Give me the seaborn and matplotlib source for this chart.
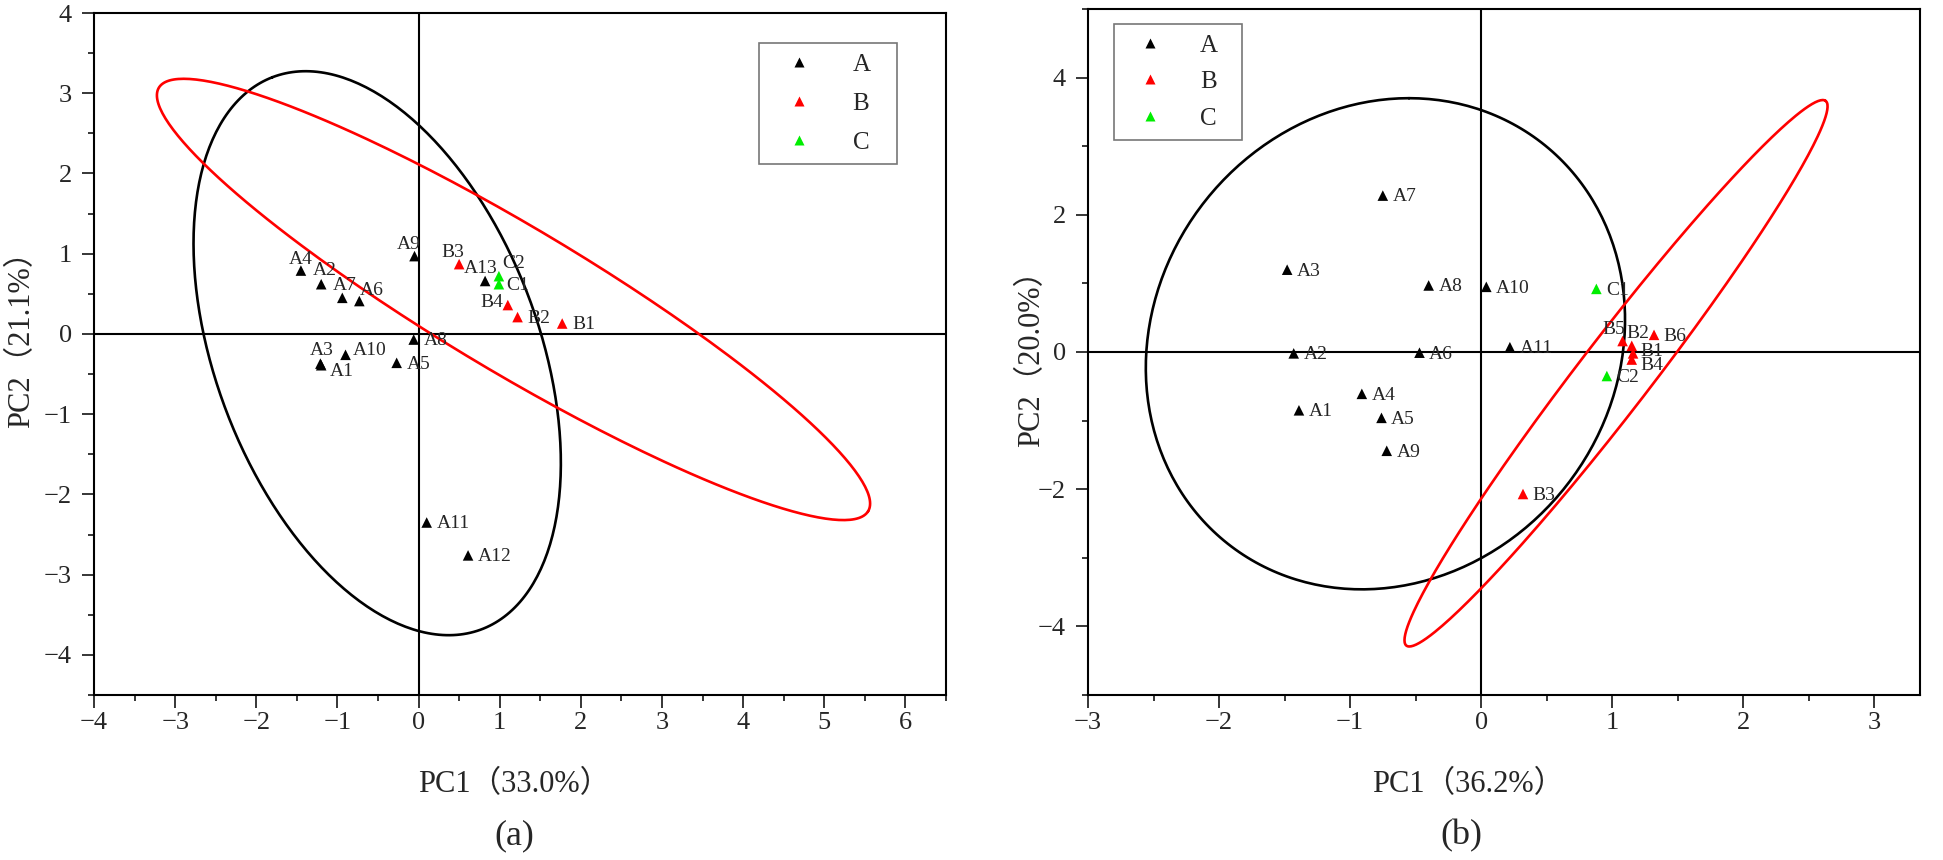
import matplotlib
matplotlib.use("Agg")
import matplotlib.pyplot as plt
from matplotlib.lines import Line2D
from matplotlib.ticker import MultipleLocator
import numpy as np
import pandas as pd
import seaborn as sns

# ---- panel (a) scores ----
names_a = ["A1", "A2", "A3", "A4", "A5", "A6", "A7", "A8", "A9", "A10",
           "A11", "A12", "A13", "B1", "B2", "B3", "B4", "C1", "C2"]
group_a = ["A"] * 13 + ["B"] * 4 + ["C"] * 2
pc1_a = [-1.20, -1.20, -1.21, -1.45, -0.27, -0.73, -0.94, -0.06, -0.05, -0.90,
         0.10, 0.61, 0.82, 1.77, 1.22, 0.50, 1.10, 0.99, 0.99]
pc2_a = [-0.39, 0.62, -0.37, 0.79, -0.36, 0.41, 0.45, -0.07, 0.97, -0.26,
         -2.35, -2.76, 0.66, 0.13, 0.21, 0.87, 0.36, 0.62, 0.72]

# ---- panel (b) scores ----
names_b = ["A1", "A2", "A3", "A4", "A5", "A6", "A7", "A8", "A9", "A10", "A11",
           "B1", "B2", "B3", "B4", "B5", "B6", "C1", "C2"]
group_b = ["A"] * 11 + ["B"] * 6 + ["C"] * 2
pc1_b = [-1.39, -1.43, -1.48, -0.91, -0.76, -0.47, -0.75, -0.40, -0.72, 0.04, 0.22,
         1.16, 1.15, 0.32, 1.15, 1.08, 1.32, 0.88, 0.96]
pc2_b = [-0.85, -0.02, 1.20, -0.61, -0.96, -0.01, 2.28, 0.97, -1.44, 0.95, 0.07,
         -0.02, 0.09, -2.07, -0.11, 0.16, 0.25, 0.92, -0.35]

# confidence ellipses: centre, semi-axis u, conjugate semi-axis v (data units)
ell_a_A = dict(c=(-0.51, -0.24), u=(-1.29, 3.44), v=(1.86, 0.72))
ell_a_B = dict(c=(1.17, 0.43), u=(4.37, -2.64), v=(0.465, 0.77))
ell_b_A = dict(c=(-0.73, 0.12), u=(0.18, 3.58), v=(1.82, 0.0))
ell_b_B = dict(c=(1.03, -0.31), u=(1.60, 3.97), v=(0.216, -0.32))

# label offsets in points (dx, dy); default is right of the marker
offs_a = {"A4": (-9, 8), "A2": (-6, 10), "A7": (-6.5, 9), "A6": (0, 7.7),
          "A9": (-12.7, 8.6), "B3": (-12.7, 8.6), "A13": (-15, 8.9),
          "C2": (2.4, 8.9), "C1": (5.3, -1.2), "B4": (-20, 1.7),
          "A3": (-7.7, 9.6), "A10": (5.5, 2.9), "A1": (6, -4.8)}
offs_b = {"B5": (-14.4, 8.2), "B2": (-3.6, 8.9), "B1": (5.5, 1.7),
          "B4": (6, -4.3)}

PAL = {"A": "black", "B": "#ff0000", "C": "#00ee00"}
SERIF = ["Liberation Serif", "Noto Sans CJK SC", "DejaVu Sans"]

sns.set_theme(style="ticks")
plt.rcParams["font.family"] = SERIF
plt.rcParams["axes.unicode_minus"] = True

W, H = 1943, 860
fig = plt.figure(figsize=(W / 100, H / 100), dpi=100)


def axes_px(l, t, r, b):
    return fig.add_axes([l / W, 1 - b / H, (r - l) / W, (b - t) / H])


def draw_ellipse(ax, e, color):
    t = np.linspace(0, 2 * np.pi, 300)
    cx, cy = e["c"]
    x = cx + e["u"][0] * np.cos(t) + e["v"][0] * np.sin(t)
    y = cy + e["u"][1] * np.cos(t) + e["v"][1] * np.sin(t)
    ax.plot(x, y, color=color, lw=1.9, zorder=2)


def panel(ax, names, groups, pc1, pc2, offs, ells, xlim, ylim, xmaj, ymaj, ymin):
    df = pd.DataFrame({"name": names, "group": groups, "PC1": pc1, "PC2": pc2})
    ax.axhline(0, color="black", lw=1.5, zorder=1)
    ax.axvline(0, color="black", lw=1.5, zorder=1)
    for e, g in ells:
        draw_ellipse(ax, e, PAL[g])
    sns.scatterplot(data=df, x="PC1", y="PC2", hue="group", palette=PAL,
                    marker="^", s=58, edgecolor="none", legend=False,
                    ax=ax, zorder=3)
    for _, r in df.iterrows():
        dx, dy = offs.get(r["name"], (7, -1))
        ax.annotate(r["name"], (r["PC1"], r["PC2"]), xytext=(dx, dy),
                    textcoords="offset points", ha="left", va="center",
                    fontsize=14, family=SERIF, zorder=4)
    ax.set_xlim(*xlim)
    ax.set_ylim(*ylim)
    ax.xaxis.set_major_locator(MultipleLocator(xmaj))
    ax.xaxis.set_minor_locator(MultipleLocator(xmaj / 2))
    ax.yaxis.set_major_locator(MultipleLocator(ymaj))
    ax.yaxis.set_minor_locator(MultipleLocator(ymin))
    ax.tick_params(which="major", length=9, width=1.3, labelsize=19)
    ax.tick_params(which="minor", length=4.5, width=1.3)
    ax.tick_params(axis="x", which="major", pad=3)
    ax.tick_params(axis="y", which="major", pad=7)
    ax.set_xlabel("")
    ax.set_ylabel("")
    for s in ax.spines.values():
        s.set_linewidth(1.5)
        s.set_color("black")


def add_legend(ax, bbox, hl, spacing):
    handles = [Line2D([], [], ls="none", marker="^", ms=7.5, mec="none",
                      mfc=PAL[g], label=g) for g in ["A", "B", "C"]]
    leg = ax.legend(handles=handles, loc="upper left", bbox_to_anchor=bbox,
                    mode="expand", borderaxespad=0, borderpad=0.4,
                    handlelength=hl, handletextpad=0.96, labelspacing=spacing,
                    fontsize=18, frameon=True, fancybox=False, numpoints=1)
    leg.get_frame().set_edgecolor("#555555")
    leg.get_frame().set_linewidth(1.2)


axL = axes_px(94, 13, 946, 695)
panel(axL, names_a, group_a, pc1_a, pc2_a, offs_a,
      [(ell_a_A, "A"), (ell_a_B, "B")], (-4, 6.5), (-4.5, 4), 1, 1, 0.5)
add_legend(axL, (0.780, 0.779, 0.162, 0.177), 2.4, 0.66)

axR = axes_px(1088, 9, 1920, 695)
panel(axR, names_b, group_b, pc1_b, pc2_b, offs_b,
      [(ell_b_A, "A"), (ell_b_B, "B")], (-3, 3.35), (-5, 5), 1, 2, 1)
add_legend(axR, (0.031, 0.812, 0.154, 0.166), 2.08, 0.56)

txt = dict(ha="center", va="center", family=SERIF)
fig.text(514 / W, 1 - 785 / H, "PC1（33.0%）", fontsize=22, **txt)
fig.text(22 / W, 1 - 332 / H, "PC2（21.1%）", fontsize=22, rotation=90, **txt)
fig.text(514 / W, 1 - 836 / H, "(a)", fontsize=26, **txt)
fig.text(1468 / W, 1 - 785 / H, "PC1（36.2%）", fontsize=22, **txt)
fig.text(1032 / W, 1 - 351 / H, "PC2（20.0%）", fontsize=22, rotation=90, **txt)
fig.text(1461 / W, 1 - 836 / H, "(b)", fontsize=26, **txt)

fig.savefig("out.png", dpi=100, facecolor="white")
